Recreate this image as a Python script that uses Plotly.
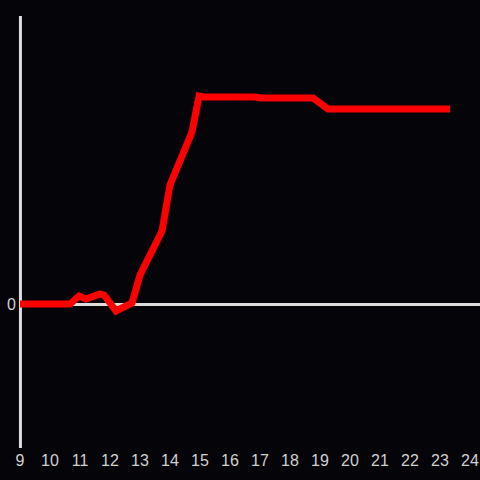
import plotly.graph_objects as go

x_vals = [9, 10.667, 10.967, 11.2, 11.667, 11.8, 12.2, 12.733, 13.0, 13.4, 13.733, 14.0,
          14.733, 14.967, 15.133, 16.833, 17.033, 18.767, 19.0, 19.267, 23.333]
y_vals = [0, 0, 4, 2.5, 5, 4.5, -3.5, 0.5, 14.5, 26, 36.5, 59.5,
          86, 104, 103.5, 103.5, 103, 103, 100.5, 97.5, 97.5]
x_ticks = list(range(9, 25))
y_ticks = [0]

fig = go.Figure()
fig.add_trace(go.Scatter(x=x_vals, y=y_vals, mode="lines",
                         line=dict(color="#ff0000", width=7), showlegend=False))

fig.update_layout(
    width=480, height=480,
    paper_bgcolor="#050408", plot_bgcolor="#050408",
    margin=dict(l=20, r=10, t=16, b=32, autoexpand=False),
    font=dict(family="Liberation Sans, Arial, sans-serif", size=16, color="#d0d0d0"),
    xaxis=dict(range=[9, 24], tickvals=x_ticks, ticktext=[str(t) for t in x_ticks],
               showgrid=False, zeroline=False, showline=False, ticks="", automargin=False,
               ticklabelstandoff=1),
    yaxis=dict(range=[-72, 144], tickvals=y_ticks, ticktext=["0"], automargin=False,
               showgrid=False, zeroline=False, showline=False, ticks="", ticklabelstandoff=3),
    shapes=[
        dict(type="line", xref="paper", yref="y", x0=0, x1=1.03, y0=-0.3, y1=-0.3,
             line=dict(color="#dddddd", width=3), layer="below"),
        dict(type="line", xref="paper", yref="paper", x0=0.001, x1=0.001, y0=0, y1=1,
             line=dict(color="#dddddd", width=3), layer="below"),
    ],
)

fig.write_html("out.html", config={"displayModeBar": False},
               post_script="document.body.style.margin='0';document.body.style.padding='0';")
